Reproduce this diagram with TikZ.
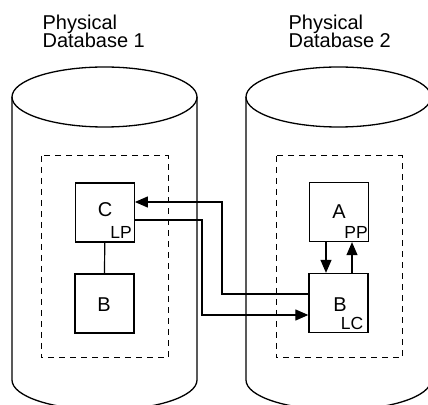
\documentclass[tikz,border=0pt]{standalone}
\usepackage{fontspec}
\setmainfont{Liberation Sans}
\usetikzlibrary{arrows.meta}
\begin{document}
\begin{tikzpicture}[x=1pt,y=1pt,
  line width=1.2pt,
  cyl/.style={line width=1.3pt},
  dbox/.style={dashed,dash pattern=on 6pt off 5pt,line width=1pt},
  seg/.style={draw,line width=1.3pt,minimum width=59pt,minimum height=59pt,inner sep=0pt},
  big/.style={font=\fontsize{20}{20}\selectfont,inner sep=0pt},
  small/.style={font=\fontsize{17.5}{17.5}\selectfont,inner sep=0pt},
  head/.style={font=\fontsize{20}{18}\selectfont,inner sep=0pt,anchor=base west},
  arr/.style={-{Triangle[length=13pt,width=11pt]}},
]
\useasboundingbox (0,0) rectangle (428,404);
\clip (0,0) rectangle (428,404);
% headings
\node[head] (h1a) at (42,374) {Physical};
\node[head] (h1b) at (42,356) {Database 1};
\node[head] (h2a) at (288,374) {Physical};
\node[head] (h2b) at (288,356) {Database 2};
% cylinders
\draw[cyl] (104.5,307) ellipse [x radius=92.5, y radius=30];
\draw[cyl] (12,307) -- (12,24) arc[start angle=180,end angle=360,x radius=92.5,y radius=30] -- (197,307);
\draw[cyl] (338.5,307) ellipse [x radius=92.5, y radius=30];
\draw[cyl] (246,307) -- (246,24) arc[start angle=180,end angle=360,x radius=92.5,y radius=30] -- (431,307);
% dashed boxes
\draw[dbox] (41,248) rectangle (168,46);
\draw[dbox] (276,248) rectangle (402,46);
% segment boxes
\node[seg] (C) at (104.75,191.5) {};
\node[seg] (Bl) at (104.5,100.5) {};
\node[seg] (A) at (339,192) {};
\node[seg] (Br) at (338.5,101) {};
% labels
\node[big] (tC) at (105,194) {C};
\node[small] (tLP) at (121,172) {LP};
\node[big] (tBl) at (104,99) {B};
\node[big] (tA) at (339,192) {A};
\node[small] (tPP) at (356,172) {PP};
\node[big] (tBr) at (340,99.5) {B};
\node[small] (tLC) at (352,81) {LC};
% helper coordinates
\coordinate (xd) at (326,0);
\coordinate (xu) at (352,0);
\coordinate (xr1) at (222,0);
\coordinate (xr2) at (202,0);
\coordinate (y1) at (0,110);
\coordinate (y2) at (0,202);
\coordinate (y3) at (0,184);
\coordinate (y4) at (0,89);
% connectors
\draw (C.south) -- (Bl.north);
\draw[arr] (A.south -| xd) -- (Br.north -| xd);
\draw[arr] (Br.north -| xu) -- (A.south -| xu);
\draw[arr] (Br.west |- y1) -| (xr1 |- y2) -- (C.east |- y2);
\draw[arr] (C.east |- y3) -| (xr2 |- y4) -- (Br.west |- y4);
\end{tikzpicture}
\end{document}
